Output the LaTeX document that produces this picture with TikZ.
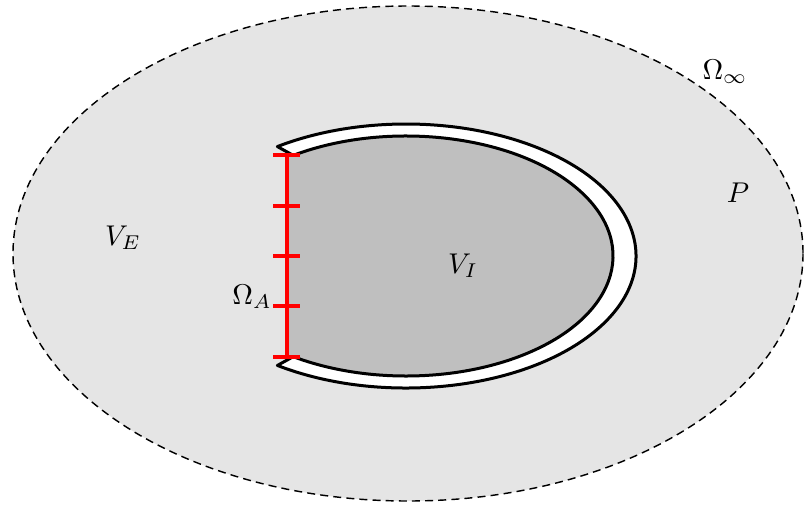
\documentclass[tikz,border=0pt]{standalone}
\usetikzlibrary{positioning,calc}

\begin{document}
\begin{tikzpicture}[x=0.35pt, y=-0.35pt,
outer/.style={fill=gray!20, dash pattern=on 2.8pt off 1.8pt, line width=0.5pt},
shell/.style={fill=white, draw=black, line width=1.05pt, line join=round},
core/.style={fill=gray!50},
bound/.style={draw=red, line width=1.4pt},
lab/.style={inner sep=1pt}
]
\useasboundingbox (0,0) rectangle (804,507);

% exterior domain
\draw[outer] (408,253.5) ellipse [x radius=395, y radius=247.5];

% interior region and shell
\coordinate (ctr) at (406,256);
\fill[core] ($(ctr)+(125:207 and 120)$) arc [start angle=125, end angle=-125, x radius=207, y radius=120] -- cycle;
\draw[shell] ($(ctr)+(124:230 and 132)$) arc [start angle=124, end angle=-124, x radius=230, y radius=132]
  -- ($(ctr)+(-123:207 and 120)$) arc [start angle=-123, end angle=123, x radius=207, y radius=120] -- cycle;

% aperture
\coordinate (atop) at (287,155);
\coordinate (abot) at (287,357);
\draw[bound] (atop) -- (abot);
\foreach \y in {155,206,256,306,357}
  \draw[bound] (273,\y) -- (300,\y);

% labels
\node[lab] (ve) at (123,238) {$V_E$};
\node[lab] (vi) at (463,266) {$V_I$};
\node[lab] (oa) at (252,297) {$\Omega_A$};
\node[lab] (p) at (738,193) {$P$};
\node[lab] (oinf) at (725,72) {$\Omega_\infty$};
\end{tikzpicture}
\end{document}
